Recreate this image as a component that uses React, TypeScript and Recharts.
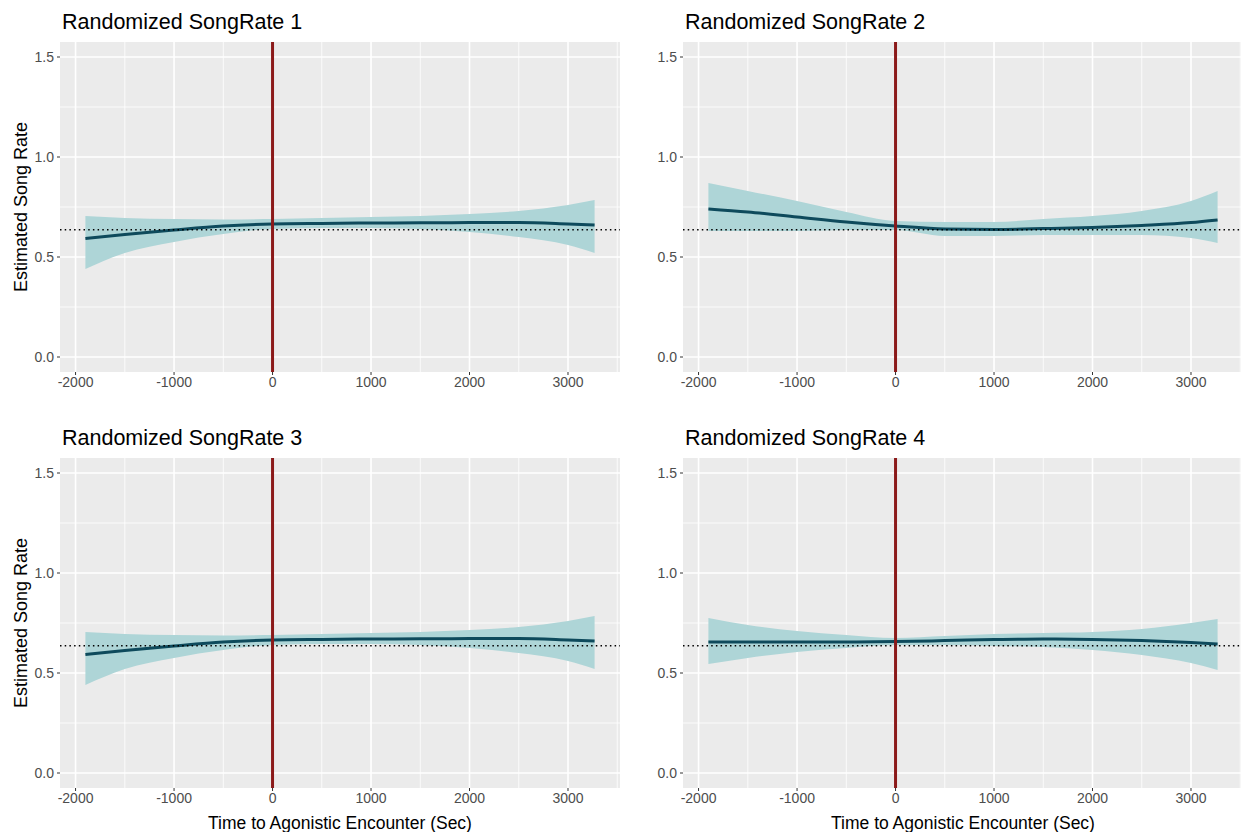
import React from 'react'
import {
  ComposedChart,
  Area,
  Line,
  XAxis,
  YAxis,
  CartesianGrid,
  ReferenceLine
} from 'recharts'

// time points the smooth was read at (sec, relative to encounter)
const TIMES = [-1900, -1500, -1000, -500, 0, 500, 1000, 1500, 2000, 2500, 3000, 3270]

// Randomized SongRate 1 (3 is the same draw)
const FIT_1 = [0.592, 0.612, 0.635, 0.655, 0.665, 0.668, 0.67, 0.671, 0.672, 0.672, 0.665, 0.66]
const LOW_1 = [0.44, 0.52, 0.575, 0.615, 0.64, 0.645, 0.645, 0.64, 0.625, 0.6, 0.56, 0.52]
const HIGH_1 = [0.705, 0.695, 0.69, 0.688, 0.69, 0.695, 0.7, 0.705, 0.715, 0.73, 0.76, 0.785]

const FIT_2 = [0.74, 0.725, 0.7, 0.675, 0.655, 0.64, 0.638, 0.642, 0.648, 0.658, 0.672, 0.685]
const LOW_2 = [0.63, 0.63, 0.63, 0.635, 0.635, 0.605, 0.605, 0.61, 0.61, 0.61, 0.595, 0.57]
const HIGH_2 = [0.87, 0.83, 0.78, 0.725, 0.68, 0.675, 0.675, 0.69, 0.705, 0.73, 0.78, 0.83]

const FIT_3 = [0.592, 0.612, 0.635, 0.655, 0.665, 0.668, 0.67, 0.671, 0.672, 0.672, 0.665, 0.66]
const LOW_3 = [0.44, 0.52, 0.575, 0.615, 0.64, 0.645, 0.645, 0.64, 0.625, 0.6, 0.56, 0.52]
const HIGH_3 = [0.705, 0.695, 0.69, 0.688, 0.69, 0.695, 0.7, 0.705, 0.715, 0.73, 0.76, 0.785]

const FIT_4 = [0.655, 0.655, 0.655, 0.655, 0.657, 0.662, 0.667, 0.67, 0.668, 0.662, 0.652, 0.645]
const LOW_4 = [0.545, 0.575, 0.605, 0.625, 0.64, 0.64, 0.635, 0.63, 0.615, 0.59, 0.55, 0.515]
const HIGH_4 = [0.775, 0.74, 0.71, 0.69, 0.675, 0.685, 0.695, 0.7, 0.705, 0.72, 0.75, 0.77]

const X_TICKS = [-2000, -1000, 0, 1000, 2000, 3000]
const X_MINOR = [-1500, -500, 500, 1500, 2500, 3500]
const Y_TICKS = [0, 0.5, 1, 1.5]
const Y_MINOR = [0.25, 0.75, 1.25]
const X_DOMAIN: [number, number] = [-2158, 3528]
const Y_DOMAIN: [number, number] = [-0.075, 1.575]

const ENCOUNTER_TIME = 0
const MEAN_RATE = 0.636

const FONT = '"Liberation Sans", Arial, Helvetica, sans-serif'
const C = {
  panel: '#EBEBEB',
  grid: '#FFFFFF',
  ribbon: '#AED5D7',
  fit: '#0E4A5C',
  event: '#8B1A1A',
  tickText: '#4D4D4D',
  tickLine: '#333333'
}

const buildRows = (fit: number[], low: number[], high: number[]) =>
  TIMES.map((t, i) => ({ time: t, fit: fit[i], band: [low[i], high[i]] }))

const PANELS = [
  { title: 'Randomized SongRate 1', rows: buildRows(FIT_1, LOW_1, HIGH_1), left: 0, top: 0, yTitle: true, xTitle: false },
  { title: 'Randomized SongRate 2', rows: buildRows(FIT_2, LOW_2, HIGH_2), left: 620, top: 0, yTitle: false, xTitle: false },
  { title: 'Randomized SongRate 3', rows: buildRows(FIT_3, LOW_3, HIGH_3), left: 0, top: 416, yTitle: true, xTitle: true },
  { title: 'Randomized SongRate 4', rows: buildRows(FIT_4, LOW_4, HIGH_4), left: 620, top: 416, yTitle: false, xTitle: true }
]

function Panel({ title, rows, left, top, yTitle, xTitle }: any) {
  const axisW = left === 0 ? 60 : 63
  return (
    <div style={{ position: 'absolute', left, top, width: axisW + 560, height: 416 }}>
      <div style={{ position: 'absolute', left: axisW + 2, top: 10, fontSize: 21.5, color: '#000', fontFamily: FONT, whiteSpace: 'nowrap' }}>
        {title}
      </div>
      <ComposedChart
        width={axisW + 560}
        height={416}
        data={rows}
        margin={{ top: 42, right: 0, bottom: 0, left: 0 }}
      >
        <CartesianGrid
          fill={C.panel}
          fillOpacity={1}
          stroke={C.grid}
          strokeWidth={0.8}
          horizontalValues={Y_MINOR}
          verticalValues={X_MINOR}
        />
        <CartesianGrid
          stroke={C.grid}
          strokeWidth={1.6}
          horizontalValues={Y_TICKS}
          verticalValues={X_TICKS}
        />
        <XAxis
          type="number"
          dataKey="time"
          domain={X_DOMAIN}
          ticks={X_TICKS}
          allowDataOverflow
          height={44}
          axisLine={false}
          tickSize={3}
          tickMargin={2}
          tickLine={{ stroke: C.tickLine, strokeWidth: 1 }}
          tick={{ fill: C.tickText, fontSize: 14, fontFamily: FONT }}
          label={xTitle ? {
            value: 'Time to Agonistic Encounter (Sec)',
            position: 'insideBottom',
            offset: 3,
            style: { fill: '#000', fontSize: 17.5, fontFamily: FONT }
          } : undefined}
        />
        <YAxis
          type="number"
          domain={Y_DOMAIN}
          ticks={Y_TICKS}
          allowDataOverflow
          width={axisW}
          axisLine={false}
          tickSize={3}
          tickMargin={3}
          tickFormatter={(v: number) => v.toFixed(1)}
          tickLine={{ stroke: C.tickLine, strokeWidth: 1 }}
          tick={{ fill: C.tickText, fontSize: 14, fontFamily: FONT }}
          label={yTitle ? {
            value: 'Estimated Song Rate',
            angle: -90,
            position: 'insideLeft',
            offset: 21,
            style: { fill: '#000', fontSize: 18, fontFamily: FONT, textAnchor: 'middle' }
          } : undefined}
        />
        <Area
          type="monotone"
          dataKey="band"
          stroke="none"
          fill={C.ribbon}
          fillOpacity={1}
          isAnimationActive={false}
          activeDot={false}
        />
        <Line
          type="monotone"
          dataKey="fit"
          stroke={C.fit}
          strokeWidth={3}
          dot={false}
          activeDot={false}
          isAnimationActive={false}
        />
        <ReferenceLine y={MEAN_RATE} stroke="#000" strokeWidth={1.5} strokeDasharray="1.5 3.2" />
        <ReferenceLine x={ENCOUNTER_TIME} stroke={C.event} strokeWidth={3} />
      </ComposedChart>
    </div>
  )
}

export default function App() {
  return (
    <div style={{ position: 'absolute', left: 0, top: 0, width: 1241, height: 832, overflow: 'hidden', background: '#fff' }}>
      {PANELS.map((p) => (
        <Panel key={p.title} {...p} />
      ))}
    </div>
  )
}
